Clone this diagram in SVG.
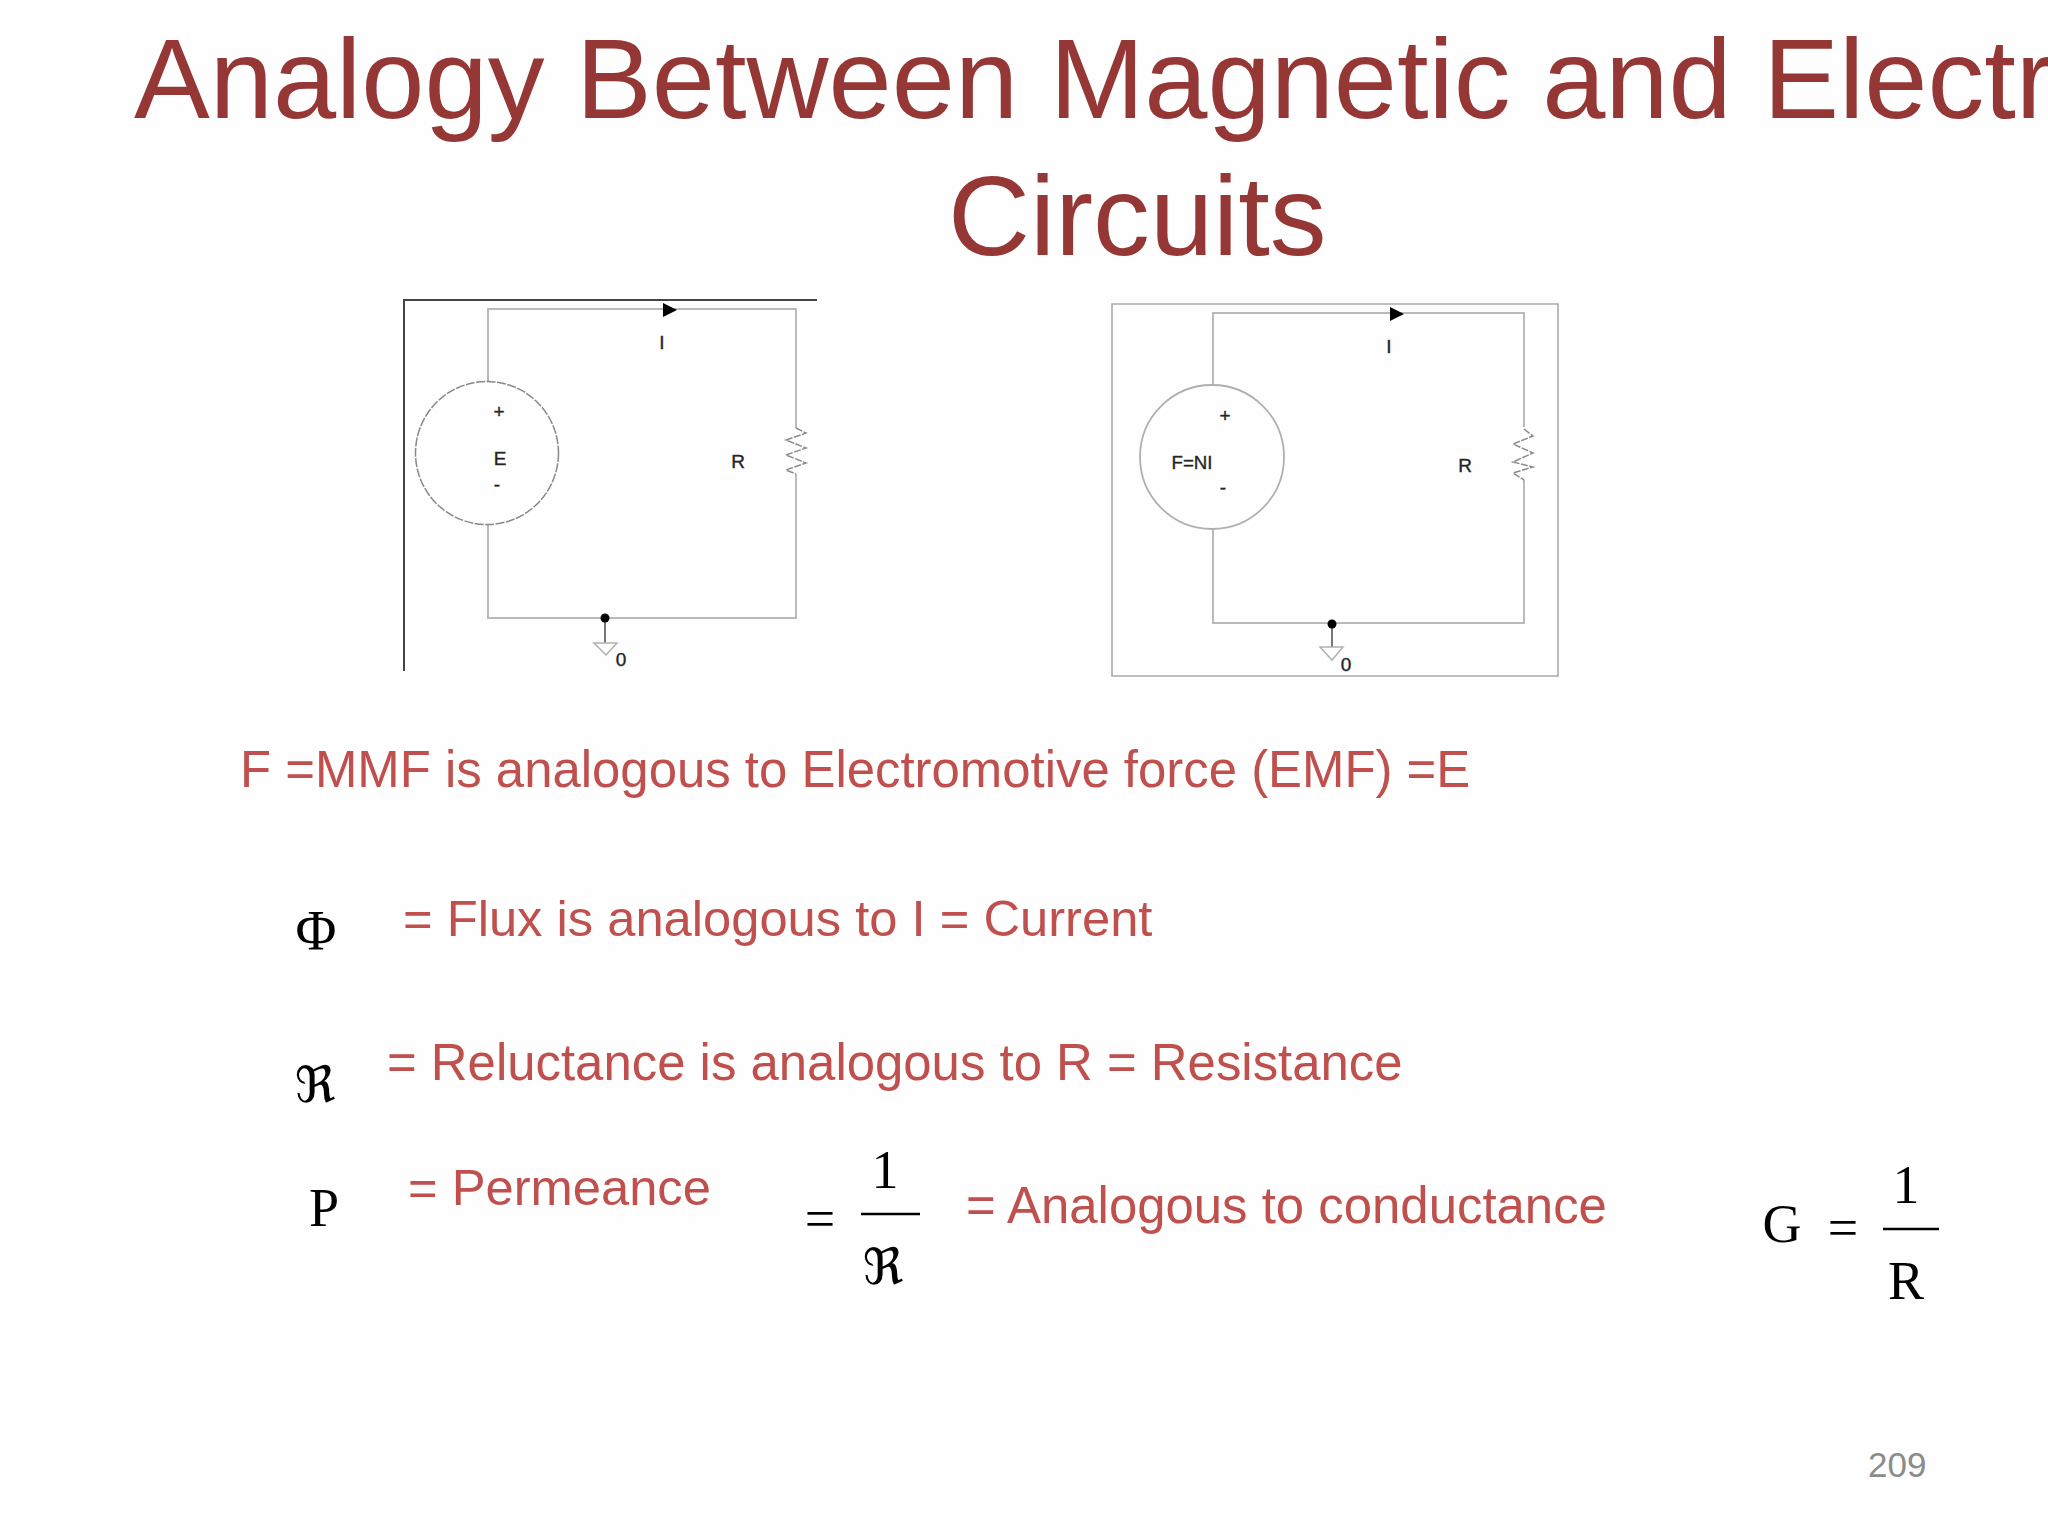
<svg xmlns="http://www.w3.org/2000/svg" width="2048" height="1536" viewBox="0 0 2048 1536">
<style>
.title{font-family:"Liberation Sans",Arial,sans-serif;font-size:113.6px;fill:#953735}
.body{font-family:"Liberation Sans",Arial,sans-serif;font-size:50.9px;fill:#c0504d}
.math{font-family:"Liberation Serif","DejaVu Serif",serif;font-size:54px;fill:#000}
.frak{font-family:"Liberation Serif","DejaVu Sans",serif;font-size:50px;fill:#000}
.lab{font-family:"Liberation Sans",Arial,sans-serif;font-size:19px;fill:#222;stroke:#333;stroke-width:.4;text-anchor:middle}
.mid{text-anchor:middle}
.wire{fill:none;stroke:#bababa;stroke-width:2}
.zig{fill:none;stroke:#8c8c8c;stroke-width:1.5;stroke-dasharray:7 1.5}
.frame{fill:none;stroke-width:2}
.rule{stroke:#000;stroke-width:2.5;fill:none}
.dot{fill:#000}
.gnd{fill:#fff;stroke:#b0b0b0;stroke-width:1.5}
.stem{stroke:#777;stroke-width:2}
</style>
<rect width="2048" height="1536" fill="#fefefe"/>
<g id="slide-title">
<text class="title" x="134" y="118">Analogy Between Magnetic and Electr</text>
<text class="title" x="948" y="255">Circuits</text>
</g>
<g id="connectors">
<path class="frame" stroke="#444" d="M817 300H404V671"/>
<path class="wire" d="M488 381V309H796V428M796 474V618H488V525"/>
<path class="frame" stroke="#ababab" style="stroke-width:1.6" d="M1112 304H1558V676H1112Z"/>
<path class="wire" d="M1213 385V313H1524V427M1524 480V623H1213V529"/>
<path class="stem" d="M605 618V643"/>
<path class="stem" d="M1332 623V647"/>
</g>
<g id="circuit1-source">
<circle cx="487" cy="453" r="71.5" fill="none" stroke="#888" stroke-width="1.5" stroke-dasharray="9 1.5"/>
<text class="lab" x="499" y="418">+</text>
<text class="lab" x="500" y="465">E</text>
<text class="lab" x="497" y="491">-</text>
</g>
<g id="circuit1-current">
<path class="dot" d="M663 303L677 310L663 317Z"/>
<text class="lab" x="662" y="349">I</text>
</g>
<g id="circuit1-resistor">
<path class="zig" d="M796 428L806 433L786 440L806 448L786 455L806 463L786 470L796 474"/>
<text class="lab" x="738" y="468">R</text>
</g>
<g id="circuit1-ground">
<circle class="dot" cx="605" cy="618" r="4.5"/>
<path class="gnd" d="M594 643H617L606 655Z"/>
<text class="lab" x="621" y="666">0</text>
</g>
<g id="circuit2-source">
<circle cx="1212" cy="457" r="72" fill="none" stroke="#b0b0b0" stroke-width="1.8"/>
<text class="lab" x="1225" y="422">+</text>
<text class="lab" x="1192" y="469" textLength="41" lengthAdjust="spacingAndGlyphs">F=NI</text>
<text class="lab" x="1223" y="494">-</text>
</g>
<g id="circuit2-current">
<path class="dot" d="M1390 307L1404 314L1390 321Z"/>
<text class="lab" x="1389" y="353">I</text>
</g>
<g id="circuit2-resistor">
<path class="zig" d="M1524 429L1533 436L1513 444L1533 453L1513 462L1533 467L1513 473L1524 480"/>
<text class="lab" x="1465" y="472">R</text>
</g>
<g id="circuit2-ground">
<circle class="dot" cx="1332" cy="624" r="4.5"/>
<path class="gnd" d="M1320 647H1343L1332 660Z"/>
<text class="lab" x="1346" y="671">0</text>
</g>
<g id="line-mmf">
<text class="body" x="240" y="787">F =MMF is analogous to Electromotive force (EMF) =E</text>
</g>
<g id="line-flux">
<text class="math mid" style="font-size:56px" x="316" y="950">Φ</text>
<text class="body" style="font-size:50.7px" x="403" y="936">= Flux is analogous to I = Current</text>
</g>
<g id="line-reluctance">
<text class="frak mid" x="315" y="1102">ℜ</text>
<text class="body" x="387" y="1080">= Reluctance is analogous to R = Resistance</text>
</g>
<g id="line-permeance">
<text class="math mid" x="324" y="1226">P</text>
<text class="body" style="font-size:50.7px" x="408" y="1205">= Permeance</text>
<text class="math mid" x="820" y="1237">=</text>
<text class="math mid" x="885" y="1188">1</text>
<path class="rule" d="M861 1214H920"/>
<text class="frak mid" x="883" y="1284">ℜ</text>
<text class="body" x="966" y="1223">= Analogous to conductance</text>
</g>
<g id="conductance">
<text class="math mid" x="1782" y="1242">G</text>
<text class="math mid" x="1843" y="1246">=</text>
<text class="math mid" x="1906" y="1203">1</text>
<path class="rule" d="M1883 1229H1939"/>
<text class="math mid" x="1906" y="1299">R</text>
</g>
<g id="page-number">
<text x="1868" y="1477" font-family="'Liberation Sans',Arial,sans-serif" font-size="35" fill="#8b8b8b">209</text>
</g>
</svg>
